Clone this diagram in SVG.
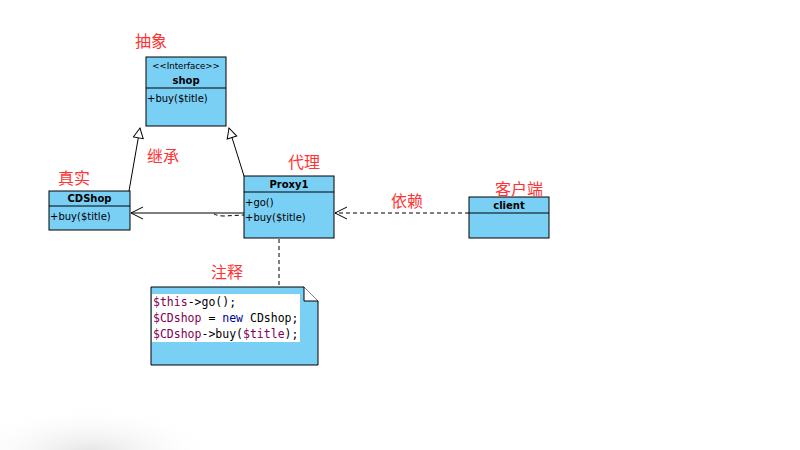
<svg xmlns="http://www.w3.org/2000/svg" width="800" height="450" viewBox="0 0 800 450">
<style>
.box{fill:#7acff5;stroke:#000;stroke-width:1}
.div{stroke:#000;stroke-width:1}
.t{font-family:"DejaVu Sans","Liberation Sans",sans-serif;font-size:10px;fill:#000}
.st{font-family:"DejaVu Sans","Liberation Sans",sans-serif;font-size:8.6px;fill:#000}
.h{font-family:"DejaVu Sans","Liberation Sans",sans-serif;font-size:10px;font-weight:bold;fill:#000}
.lbl{font-family:"Noto Sans CJK SC","Noto Sans",sans-serif;font-size:16px;fill:#ff3333}
.code{font-family:"DejaVu Sans Mono","Liberation Mono",monospace;font-size:11.5px;fill:#000}
.v{fill:#7f0055}
.k{fill:#00009a}
.ln{fill:none;stroke:#000;stroke-width:1}
.dash{fill:none;stroke:#000;stroke-width:1;stroke-dasharray:4,3}
</style>
<defs>
<radialGradient id="sh" cx="0.5" cy="0.5" r="0.5">
<stop offset="0" stop-color="#e2e2e2"/>
<stop offset="1" stop-color="#ffffff" stop-opacity="0"/>
</radialGradient>
<marker id="tri" markerWidth="12" markerHeight="12" refX="11" refY="6" orient="auto" markerUnits="userSpaceOnUse">
<path d="M1,1 L11,6 L1,11 Z" fill="#fff" stroke="#000"/>
</marker>
<marker id="open" markerWidth="14" markerHeight="14" refX="13" refY="7" orient="auto" markerUnits="userSpaceOnUse">
<path d="M1,1 L13,7 L1,13" fill="none" stroke="#000"/>
</marker>
</defs>
<rect width="800" height="450" fill="#fff"/>
<ellipse cx="90" cy="455" rx="130" ry="50" fill="url(#sh)"/>

<g id="connectors">
<line class="ln" x1="129" y1="191" x2="140" y2="128" marker-end="url(#tri)"/>
<line class="ln" x1="244" y1="176" x2="229" y2="128" marker-end="url(#tri)"/>
<line class="ln" x1="244" y1="213" x2="131" y2="213" marker-end="url(#open)"/>
<path class="dash" d="M214,214 Q218,216 224,216 L244,215"/>
<line class="dash" x1="469" y1="213" x2="335" y2="213" marker-end="url(#open)"/>
<line class="dash" x1="279" y1="239" x2="279" y2="287"/>
</g>

<g id="shop">
<rect class="box" x="146" y="57" width="80" height="69"/>
<line class="div" x1="146" y1="88" x2="226" y2="88"/>
<text class="st" x="186" y="69" text-anchor="middle">&lt;&lt;Interface&gt;&gt;</text>
<text class="h" x="186" y="84" text-anchor="middle">shop</text>
<text class="t" x="147" y="102">+buy($title)</text>
</g>

<g id="cdshop">
<rect class="box" x="49" y="191" width="81" height="39"/>
<line class="div" x1="49" y1="206" x2="130" y2="206"/>
<text class="h" x="89.5" y="202" text-anchor="middle">CDShop</text>
<text class="t" x="50" y="220">+buy($title)</text>
</g>

<g id="proxy1">
<rect class="box" x="244" y="176" width="90" height="62"/>
<line class="div" x1="244" y1="192" x2="334" y2="192"/>
<text class="h" x="289" y="188" text-anchor="middle">Proxy1</text>
<text class="t" x="245" y="206">+go()</text>
<text class="t" x="245" y="221">+buy($title)</text>
</g>

<g id="client">
<rect class="box" x="469" y="197" width="80" height="41"/>
<line class="div" x1="469" y1="213" x2="549" y2="213"/>
<text class="h" x="509" y="209" text-anchor="middle">client</text>
</g>

<g id="note">
<path class="box" d="M151,287 L304,287 L318,301 L318,365 L151,365 Z"/>
<path d="M304,287 L304,301 L318,301" fill="#fff" stroke="#000"/>
<rect x="152" y="294" width="148" height="48" fill="#fff"/>
<text class="code" x="153" y="306"><tspan class="v">$this</tspan>-&gt;go();</text>
<text class="code" x="153" y="322"><tspan class="v">$CDshop</tspan> = <tspan class="k">new</tspan> CDshop;</text>
<text class="code" x="153" y="338"><tspan class="v">$CDshop</tspan>-&gt;buy(<tspan class="v">$title</tspan>);</text>
</g>

<g id="labels">
<text class="lbl" x="135" y="47">抽象</text>
<text class="lbl" x="147" y="162">继承</text>
<text class="lbl" x="58" y="184">真实</text>
<text class="lbl" x="288" y="168">代理</text>
<text class="lbl" x="391" y="207">依赖</text>
<text class="lbl" x="495" y="195">客户端</text>
<text class="lbl" x="211" y="278">注释</text>
</g>
</svg>
